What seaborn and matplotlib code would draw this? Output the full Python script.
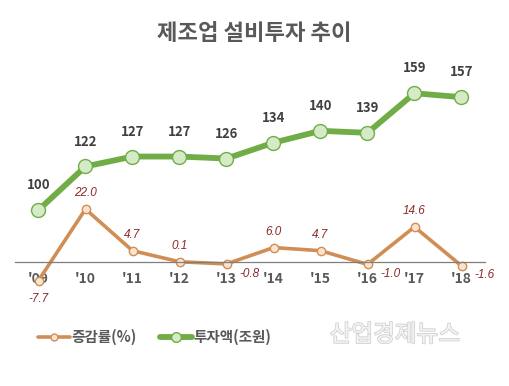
import pandas as pd
import seaborn as sns
import matplotlib.pyplot as plt
import matplotlib.patheffects as pe

# data
years = ["'09", "'10", "'11", "'12", "'13", "'14", "'15", "'16", "'17", "'18"]
invest = [100, 122, 127, 127, 126, 134, 140, 139, 159, 157]        # 투자액(조원)
growth = [-7.7, 22.0, 4.7, 0.1, -0.8, 6.0, 4.7, -1.0, 14.6, -1.6]  # 증감률(%)

df = pd.DataFrame({'x': range(len(years)), 'year': years,
                   'invest': invest, 'growth': growth})

sns.set_style('white')
plt.rcParams['font.family'] = ['Noto Sans CJK KR', 'DejaVu Sans']

green = '#70AD47'
orange = '#D08E55'
label_red = '#8B2A2A'
grey = '#595959'

fig = plt.figure(figsize=(5.09, 3.86), dpi=100)
ax = fig.add_axes([15 / 509, 1 - 300 / 386, 470 / 509, 240 / 386])
ax2 = ax.twinx()

# growth rate on primary axis
sns.lineplot(data=df, x='x', y='growth', ax=ax, color=orange, linewidth=2.6,
             marker='o', markersize=6, markerfacecolor='#FBE3D0',
             markeredgecolor=orange, markeredgewidth=1)
# investment on secondary axis
sns.lineplot(data=df, x='x', y='invest', ax=ax2, color=green, linewidth=4.2,
             marker='o', markersize=10, markerfacecolor='#D5EBC8',
             markeredgecolor=green, markeredgewidth=1)

ax.set_xlim(-0.5, 9.5)
ax.set_ylim(-15.8, 84)
ax2.set_ylim(54.5, 175.8)

for a in (ax, ax2):
    a.set_xlabel('')
    a.set_ylabel('')
    a.set_yticks([])
    for s in a.spines.values():
        s.set_visible(False)

ax.spines['bottom'].set_visible(True)
ax.spines['bottom'].set_position(('data', 0))
ax.spines['bottom'].set_color('#7F7F7F')
ax.spines['bottom'].set_linewidth(0.9)
ax.set_xticks(df['x'])
ax.set_xticklabels(years, fontsize=10, fontweight='bold', color=grey)
ax.tick_params(axis='x', length=0, pad=7)
ax.set_zorder(ax2.get_zorder() + 1)
ax.patch.set_visible(False)

# value labels
for i, v in enumerate(invest):
    ax2.text(i, v + 9, f'{v}', ha='center', va='bottom', fontsize=9.5,
             fontweight='bold', color='#404040')

num_font = dict(fontsize=8.5, style='italic', color=label_red,
                family='Liberation Sans')
for i, v in enumerate(growth):
    if v >= 0:
        ax.text(i, v + 4, f'{v:.1f}', ha='center', va='bottom', **num_font)
    elif i == 0:
        ax.text(i, v - 5, f'{v:.1f}', ha='center', va='top', **num_font)
    else:
        ax.text(i + 0.28, v - 1.5, f'{v:.1f}', ha='left', va='top', **num_font)

fig.text(0.5, 1 - 33 / 386, '제조업 설비투자 추이', ha='center', va='center',
         fontsize=16, fontweight='bold', color=grey)

# legend
h1 = plt.Line2D([], [], color=orange, linewidth=2.6, marker='o', markersize=5,
                markerfacecolor='#FBE3D0', markeredgecolor=orange)
h2 = plt.Line2D([], [], color=green, linewidth=4.2, marker='o', markersize=7,
                markerfacecolor='#D5EBC8', markeredgecolor=green)
fig.legend([h1, h2], ['증감률(%)', '투자액(조원)'], loc='center left',
           bbox_to_anchor=(25 / 509, 1 - 337 / 386), ncol=2, frameon=False,
           handlelength=2.2, handletextpad=0.1, columnspacing=1.6,
           prop={'size': 10.5, 'weight': 'bold'}, labelcolor=grey)

# watermark
fig.text(395 / 509, 1 - 335 / 386, '산업경제뉴스', ha='center', va='center',
         fontsize=17, color='#F4F4F4',
         path_effects=[pe.withStroke(linewidth=1.2, foreground='#D0D0D0')])

fig.savefig('out.png', dpi=100)
